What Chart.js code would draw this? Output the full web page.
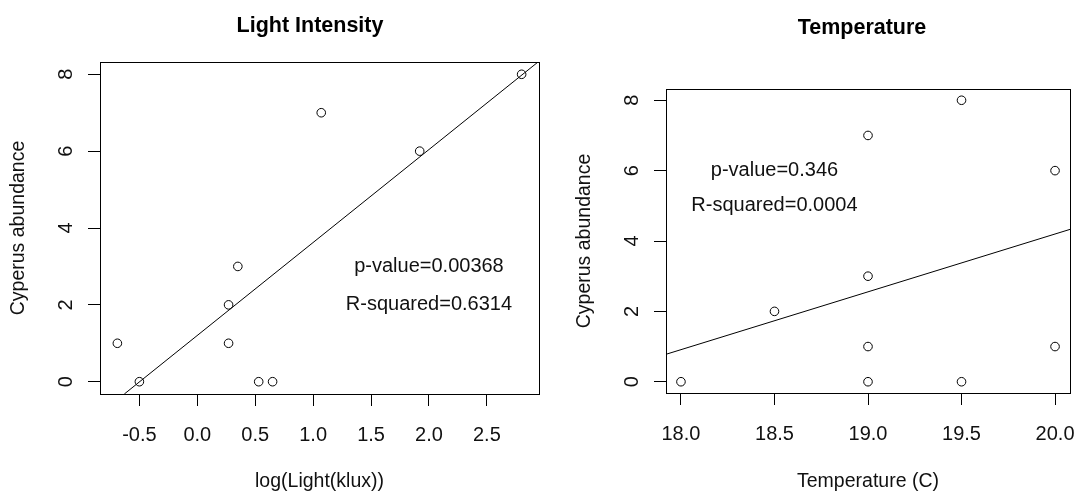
<!DOCTYPE html>
<html>
<head>
<meta charset="utf-8">
<script src="https://cdn.jsdelivr.net/npm/chart.js@4.4.1/dist/chart.umd.min.js"></script>
<style>
  body { margin: 0; background: #fff; overflow: hidden; }
  canvas { position: absolute; top: 0; }
  #lightChart { left: 0; }
  #tempChart { left: 560px; }
</style>
</head>
<body>
<canvas id="lightChart" width="560" height="495"></canvas>
<canvas id="tempChart" width="518" height="495"></canvas>
<script>
// --- Dados: painel da luz ---
const lightX = [-0.69, -0.50, 0.27, 0.27, 0.35, 0.53, 0.65, 1.07, 1.92, 2.80];
const lightY = [1, 0, 1, 2, 3, 0, 0, 7, 6, 8];
const lightFitX = [-0.63, 2.95];   // reta de regressão (pontas)
const lightFitY = [-0.32, 8.34];
const lightXTicks = [-0.5, 0.0, 0.5, 1.0, 1.5, 2.0, 2.5];
const lightXRange = [-0.84, 2.95];

// --- Dados: painel da temperatura ---
const tempX = [18.0, 18.5, 19.0, 19.0, 19.0, 19.0, 19.5, 19.5, 20.0, 20.0];
const tempY = [0, 2, 7, 3, 1, 0, 8, 0, 6, 1];
const tempFitX = [17.92, 20.08];
const tempFitY = [0.78, 4.33];
const tempXTicks = [18.0, 18.5, 19.0, 19.5, 20.0];
const tempXRange = [17.92, 20.08];

// eixo y comum
const yTicks = [0, 2, 4, 6, 8];
const yRange = [-0.32, 8.32];

const FONT = '"Liberation Sans", Arial, sans-serif';
Chart.defaults.font.family = FONT;
Chart.defaults.color = '#111';

// Desenha a caixa, o título e os textos de p-value / R²
const rPlot = {
    id: 'rPlot',
    afterDatasetsDraw(chart, args, opts) {
        const { ctx, chartArea: a, scales } = chart;
        ctx.save();
        ctx.strokeStyle = '#000';
        ctx.lineWidth = 1;
        ctx.strokeRect(a.left + 0.5, a.top + 0.5, a.right - a.left, a.bottom - a.top);

        ctx.fillStyle = '#111';
        ctx.font = '20px ' + FONT;
        ctx.textAlign = 'center';
        ctx.textBaseline = 'middle';
        opts.notes.forEach(n => {
            ctx.fillText(n.text, scales.x.getPixelForValue(n.x), scales.y.getPixelForValue(n.y));
        });

        ctx.fillStyle = '#000';
        ctx.font = 'bold 21.5px ' + FONT;
        ctx.textBaseline = 'alphabetic';
        ctx.fillText(opts.title, opts.titleX, opts.titleY);
        ctx.restore();
    }
};

function toPoints(xs, ys) {
    return xs.map((x, i) => ({ x: x, y: ys[i] }));
}

function makeChart(id, p) {
    return new Chart(document.getElementById(id), {
        type: 'scatter',
        data: {
            datasets: [
                {
                    data: toPoints(p.xs, p.ys),
                    pointStyle: 'circle',
                    pointRadius: 4.3,
                    pointHoverRadius: 4.3,
                    borderColor: '#000',
                    borderWidth: 1,
                    backgroundColor: 'rgba(0,0,0,0)'
                },
                {
                    data: toPoints(p.fitX, p.fitY),
                    showLine: true,
                    pointRadius: 0,
                    borderColor: '#000',
                    borderWidth: 1
                }
            ]
        },
        options: {
            responsive: false,
            animation: false,
            events: [],
            layout: { padding: { top: p.top, right: p.right, left: 0, bottom: 0 } },
            plugins: {
                legend: { display: false },
                tooltip: { enabled: false },
                rPlot: { notes: p.notes, title: p.title, titleX: p.titleX, titleY: p.titleY }
            },
            scales: {
                x: {
                    type: 'linear',
                    min: p.xRange[0],
                    max: p.xRange[1],
                    afterBuildTicks: s => { s.ticks = p.xTicks.map(v => ({ value: v })); },
                    afterFit: s => {
                        s.height = p.xHeight;
                        s.paddingLeft = 0;   // não deixa o rótulo empurrar a área
                        s.paddingRight = 0;
                    },
                    grid: { drawOnChartArea: false, tickLength: 12, color: '#000' },
                    border: { display: true, color: '#000' },
                    ticks: {
                        font: { size: 20 },
                        padding: 17,
                        maxRotation: 0,
                        callback: v => v.toFixed(1)
                    },
                    title: {
                        display: true,
                        text: p.xTitle,
                        font: { size: 19.5 },
                        padding: { top: 0, bottom: 2 }
                    }
                },
                y: {
                    type: 'linear',
                    min: yRange[0],
                    max: yRange[1],
                    afterBuildTicks: s => { s.ticks = yTicks.map(v => ({ value: v })); },
                    afterFit: s => {
                        s.width = p.yWidth;
                        s.paddingTop = 0;
                        s.paddingBottom = 0;
                    },
                    grid: { drawOnChartArea: false, tickLength: 12, color: '#000' },
                    border: { display: true, color: '#000' },
                    ticks: {
                        font: { size: 20 },
                        minRotation: 90,
                        maxRotation: 90,
                        crossAlign: 'center',
                        padding: 16,
                        callback: v => String(v)
                    },
                    title: {
                        display: true,
                        text: 'Cyperus abundance',
                        font: { size: 19.5 },
                        padding: { top: p.yTitlePad, bottom: 0 }
                    }
                }
            }
        },
        plugins: [rPlot]
    });
}

// --- Execução ---
makeChart('lightChart', {
    xs: lightX, ys: lightY, fitX: lightFitX, fitY: lightFitY,
    xTicks: lightXTicks, xRange: lightXRange,
    xTitle: 'log(Light(klux))',
    title: 'Light Intensity', titleX: 310, titleY: 32,
    notes: [
        { text: 'p-value=0.00368', x: 2.0, y: 3 },
        { text: 'R-squared=0.6314', x: 2.0, y: 2 }
    ],
    top: 62, right: 21, yWidth: 100, xHeight: 101, yTitlePad: 7
});

makeChart('tempChart', {
    xs: tempX, ys: tempY, fitX: tempFitX, fitY: tempFitY,
    xTicks: tempXTicks, xRange: tempXRange,
    xTitle: 'Temperature (C)',
    title: 'Temperature', titleX: 302, titleY: 34,
    notes: [
        { text: 'p-value=0.346', x: 18.5, y: 6 },
        { text: 'R-squared=0.0004', x: 18.5, y: 5 }
    ],
    top: 89, right: 8, yWidth: 106, xHeight: 102, yTitlePad: 13
});
</script>
</body>
</html>
